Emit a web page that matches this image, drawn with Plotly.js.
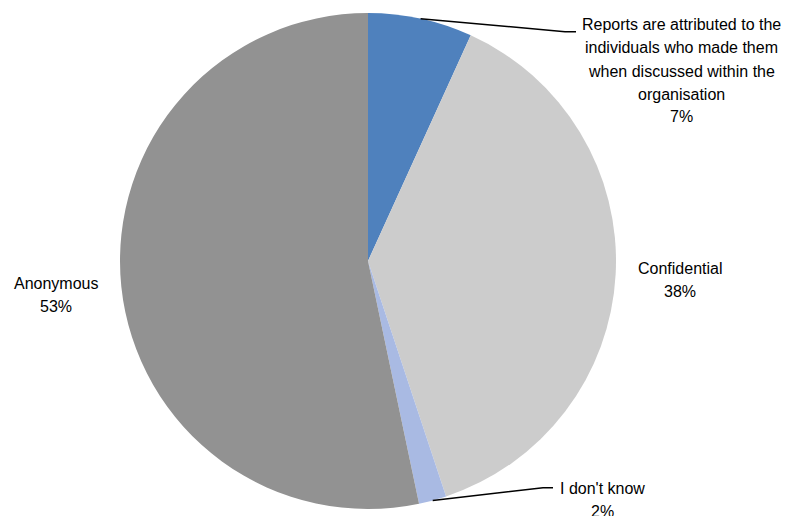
<!DOCTYPE html>
<html>
<head>
<meta charset="utf-8">
<script src="https://cdn.plot.ly/plotly-3.0.1.min.js"></script>
<style>html,body{margin:0;padding:0;background:#fff;}#chart{width:785px;height:516px;}</style>
</head>
<body>
<div id="chart"></div>
<script>
// Data
const categories = [
  "Reports are attributed to the<br>individuals who made them<br>when discussed within the<br>organisation",
  "Confidential",
  "I don't know",
  "Anonymous"
];
const shares = [6.8, 38.1, 1.8, 53.3];
const percentLabels = ["7%", "38%", "2%", "53%"];
const sliceColors = ["#4F81BD", "#CCCCCC", "#A9BAE3", "#929292"];

// Layout constants (pixels)
const W = 785, H = 516;
const cx = 368, cy = 261, R = 248;
const LINE = 23;
const px = x => x / W;
const py = y => 1 - y / H;

// label placements (pixel center of first line) and leader elbows
const labelPos = [
  {x: 681, y: 25, elbow: [565, 31.7], end: [576, 31.7]},
  {x: 680, y: 268},
  {x: 602, y: 488, elbow: [543, 487.7], end: [553, 487.7]},
  {x: 56, y: 283}
];
const labelFont = {family: '"Liberation Sans Narrow", "Arial Narrow", "Liberation Sans", Arial, sans-serif', size: 16, color: '#000'};

const total = shares.reduce((a, b) => a + b, 0);
const annotations = [];
const shapes = [];
let cum = 0;
shares.forEach((v, i) => {
  const mid = (cum + v / 2) / total;
  cum += v;
  const ang = mid * 2 * Math.PI; // clockwise from top
  const rx = cx + R * Math.sin(ang);
  const ry = cy - R * Math.cos(ang);
  const lp = labelPos[i];
  const lines = categories[i].split('<br>').concat([percentLabels[i]]);
  lines.forEach((t, k) => {
    annotations.push({
      x: px(lp.x), y: py(lp.y + k * LINE), xref: 'paper', yref: 'paper',
      xanchor: 'center', yanchor: 'middle', showarrow: false,
      text: t, font: labelFont, align: 'center'
    });
  });
  if (lp.elbow) {
    shapes.push({
      type: 'path', xref: 'paper', yref: 'paper',
      path: `M ${px(rx)} ${py(ry)} L ${px(lp.elbow[0])} ${py(lp.elbow[1])} L ${px(lp.end[0])} ${py(lp.end[1])}`,
      line: {color: '#000', width: 1.5}
    });
  }
});

const trace = {
  type: 'pie',
  labels: categories,
  values: shares,
  sort: false,
  direction: 'clockwise',
  rotation: 0,
  marker: {colors: sliceColors, line: {width: 0}},
  textinfo: 'none',
  hoverinfo: 'none',
  showlegend: false,
  domain: {x: [(cx - R) / W, (cx + R) / W], y: [(H - cy - R) / H, (H - cy + R) / H]}
};

Plotly.newPlot('chart', [trace], {
  width: W, height: H,
  margin: {l: 0, r: 0, t: 0, b: 0},
  paper_bgcolor: '#fff',
  showlegend: false,
  annotations: annotations,
  shapes: shapes
}, {staticPlot: true});
</script>
</body>
</html>
